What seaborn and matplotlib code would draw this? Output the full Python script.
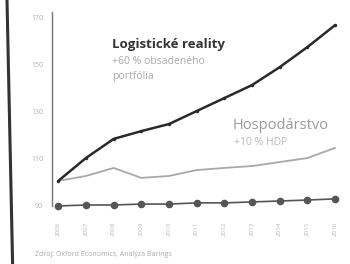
import numpy as np
import pandas as pd
import matplotlib
matplotlib.use('Agg')
import matplotlib.pyplot as plt
import seaborn as sns
from matplotlib.lines import Line2D

sns.set_style('white')
plt.rcParams['font.family'] = ['Open Sans', 'DejaVu Sans']

years = [2006, 2007, 2008, 2009, 2010, 2011, 2012, 2013, 2014, 2015, 2016]
logistika = [100.6, 110.3, 118.4, 121.7, 124.7, 130.2, 135.7, 141.2, 148.8, 157.3, 166.6]
hdp = [100.6, 102.7, 106.1, 101.9, 102.7, 105.2, 106.1, 106.9, 108.6, 110.3, 114.6]
zaklad = [90.0, 90.4, 90.4, 90.8, 90.8, 91.3, 91.3, 91.7, 92.1, 92.5, 93.0]
y_ticks = [90, 110, 130, 150, 170]

df = pd.DataFrame({'rok': years, 'logistika': logistika, 'hdp': hdp, 'zaklad': zaklad})

fig = plt.figure(figsize=(3.5, 2.64), dpi=100)
ax = fig.add_axes([0.149, 0.202, 0.851, 0.751])

sns.lineplot(data=df, x='rok', y='hdp', ax=ax, color='#a8a8a8', linewidth=1.3)
sns.lineplot(data=df, x='rok', y='logistika', ax=ax, color='#2a2a2a', linewidth=1.8,
             marker='o', markersize=2.5, markeredgewidth=0)
sns.lineplot(data=df, x='rok', y='zaklad', ax=ax, color='#555555', linewidth=1.2,
             marker='o', markersize=5.5, markeredgewidth=0)

ax.set_xlim(2005.78, 2016.54)
ax.set_ylim(88, 172)
ax.set_yticks(y_ticks)
ax.set_yticklabels([str(t) for t in y_ticks], fontsize=5, color='#b0b0b0')
ax.set_xticks(years)
ax.set_xticklabels([str(y) for y in years], rotation=90, fontsize=4.5, color='#b8b8b8')
ax.tick_params(axis='y', direction='inout', length=5, width=0.8, color='#777777', pad=4)
ax.tick_params(axis='x', length=0, pad=8)
ax.set_xlabel('')
ax.set_ylabel('')
for s in ['top', 'right', 'bottom']:
    ax.spines[s].set_visible(False)
ax.spines['left'].set_color('#777777')
ax.spines['left'].set_linewidth(1.0)
ax.spines['left'].set_bounds(90, 172)

ax.text(2007.95, 158.2, 'Logistické reality', fontsize=9.5, fontweight='bold', color='#333333', va='center')
ax.text(2007.95, 151.2, '+60 % obsadeného', fontsize=7.5, color='#aaaaaa', va='center')
ax.text(2007.95, 144.8, 'portfólia', fontsize=7.5, color='#aaaaaa', va='center')
ax.text(2012.3, 124.2, 'Hospodárstvo', fontsize=10.5, color='#999999', va='center')
ax.text(2012.35, 117.0, '+10 % HDP', fontsize=7.5, color='#bbbbbb', va='center')

fig.text(0.10, 0.03, 'Zdroj: Oxford Economics, Analýza Barings', fontsize=5, color='#aaaaaa')
fig.add_artist(Line2D([0.02, 0.036], [1.0, 0.0], color='#333333', linewidth=2.2))

fig.savefig('out.png', dpi=100)
